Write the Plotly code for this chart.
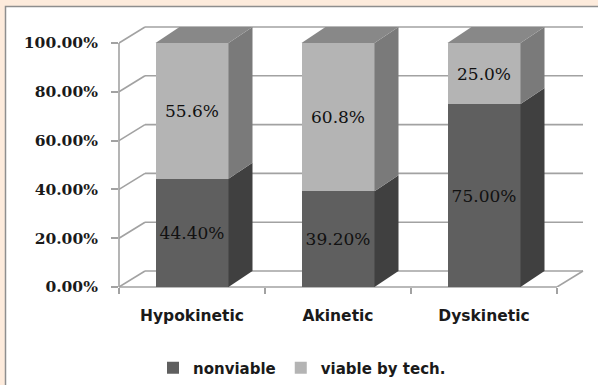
import plotly.graph_objects as go

# ---- data -------------------------------------------------------------
categories = ["Hypokinetic", "Akinetic", "Dyskinetic"]
nonviable = [44.4, 39.2, 75.0]
viable_by_tech = [55.6, 60.8, 25.0]
y_ticks = [0, 20, 40, 60, 80, 100]
y_tick_labels = [f"{v:.2f}%" for v in y_ticks]

# ---- geometry / style ------------------------------------------------
W, H = 598, 385
PLOT_L, PLOT_R, PLOT_T, PLOT_B = 119, 590, 20, 287   # plot area in px
PX_PER_CAT = 146.0                                    # px per category slot
PX_PER_PCT = 2.44                                     # px per percent
X_MAX = (PLOT_R - PLOT_L) / PX_PER_CAT
Y_MAX = (PLOT_B - PLOT_T) / PX_PER_PCT

BAR_W = 0.5
BAR_DX = 24 / PX_PER_CAT      # depth of the 3-D bars
WALL_DX = 26 / PX_PER_CAT     # depth of the back wall
DEPTH_DY = 16 / PX_PER_PCT

DARK_FRONT, DARK_SIDE = "#5f5f5f", "#404040"
LIGHT_FRONT, LIGHT_SIDE, TOP = "#b4b4b4", "#7a7a7a", "#888888"
GRID = "#a2a2a2"
PEACH = "#fdebdc"

n = len(categories)
xpos = [i + 0.5 for i in range(n)]


def px_to_paper_x(px):
    return (px - PLOT_L) / (PLOT_R - PLOT_L)


def px_to_paper_y(py):
    return (PLOT_B - py) / (PLOT_B - PLOT_T)


def side_faces(bases, tops):
    xs, ys = [], []
    for xc, b, t in zip(xpos, bases, tops):
        x1 = xc + BAR_W / 2
        xs += [x1, x1 + BAR_DX, x1 + BAR_DX, x1, x1, None]
        ys += [b, b + DEPTH_DY, t + DEPTH_DY, t, b, None]
    return xs, ys


def top_faces(tops):
    xs, ys = [], []
    for xc, t in zip(xpos, tops):
        x0, x1 = xc - BAR_W / 2, xc + BAR_W / 2
        xs += [x0, x1, x1 + BAR_DX, x0 + BAR_DX, x0, None]
        ys += [t, t, t + DEPTH_DY, t + DEPTH_DY, t, None]
    return xs, ys


totals = [a + b for a, b in zip(nonviable, viable_by_tech)]
zeros = [0] * n

fig = go.Figure()

label_font = dict(family="DejaVu Serif", size=17, color="#111111")

# front faces
fig.add_trace(go.Bar(
    x=xpos, y=nonviable, width=BAR_W, name="nonviable",
    marker=dict(color=DARK_FRONT, line=dict(width=0)),
    texttemplate="%{y:.2f}%", textposition="inside", insidetextanchor="middle",
    textangle=0, constraintext="none", textfont=label_font, hoverinfo="skip",
))
fig.add_trace(go.Bar(
    x=xpos, y=viable_by_tech, width=BAR_W, name="viable by tech.",
    marker=dict(color=LIGHT_FRONT, line=dict(width=0)),
    texttemplate="%{y:.1f}%", textposition="inside", insidetextanchor="middle",
    textangle=0, constraintext="none", textfont=label_font, hoverinfo="skip",
))

# side and top faces
sx, sy = side_faces(zeros, nonviable)
fig.add_trace(go.Scatter(x=sx, y=sy, mode="lines", fill="toself",
                         fillcolor=DARK_SIDE, line=dict(width=0),
                         showlegend=False, hoverinfo="skip"))
sx, sy = side_faces(nonviable, totals)
fig.add_trace(go.Scatter(x=sx, y=sy, mode="lines", fill="toself",
                         fillcolor=LIGHT_SIDE, line=dict(width=0),
                         showlegend=False, hoverinfo="skip"))
tx, ty = top_faces(totals)
fig.add_trace(go.Scatter(x=tx, y=ty, mode="lines", fill="toself",
                         fillcolor=TOP, line=dict(width=0),
                         showlegend=False, hoverinfo="skip"))

# ---- frame: panel, back wall, floor, axis lines -----------------------
shapes = [
    dict(type="rect", xref="paper", yref="paper", layer="below",
         x0=px_to_paper_x(5.5), x1=px_to_paper_x(W + 10),
         y0=px_to_paper_y(6.5), y1=px_to_paper_y(H + 10),
         fillcolor="white", line=dict(color="#8e8e8e", width=1.5)),
]
line_style = dict(color=GRID, width=1.6)
for v in y_ticks:
    shapes.append(dict(type="line", xref="x", yref="y", layer="below",
                       x0=WALL_DX, x1=n + WALL_DX,
                       y0=v + DEPTH_DY, y1=v + DEPTH_DY, line=line_style))
    shapes.append(dict(type="line", xref="x", yref="y", layer="below",
                       x0=0, x1=WALL_DX, y0=v, y1=v + DEPTH_DY, line=line_style))
shapes.append(dict(type="line", xref="x", yref="y", layer="below",
                   x0=n, x1=n + WALL_DX, y0=0, y1=DEPTH_DY, line=line_style))
shapes.append(dict(type="line", xref="x", yref="paper", layer="below",
                   x0=0, x1=n, y0=0, y1=0, line=line_style))
shapes.append(dict(type="line", xref="paper", yref="y", layer="below",
                   x0=0, x1=0, y0=0, y1=y_ticks[-1], line=line_style))

fig.update_layout(
    width=W, height=H,
    margin=dict(l=PLOT_L, r=W - PLOT_R, t=PLOT_T, b=H - PLOT_B),
    paper_bgcolor=PEACH, plot_bgcolor="white",
    barmode="stack",
    shapes=shapes,
    showlegend=True,
    legend=dict(orientation="h", xref="container", yref="container",
                xanchor="center", yanchor="middle",
                x=302 / W, y=1 - 368 / H,
                font=dict(family="DejaVu Sans", size=15, color="#1a1a1a",
                          weight="bold"),
                bgcolor="rgba(0,0,0,0)", traceorder="normal"),
    xaxis=dict(range=[0, X_MAX], tickvals=xpos, ticktext=categories,
               ticks="", showgrid=False, zeroline=False, showline=False,
               automargin=False,
               tickfont=dict(family="DejaVu Sans", size=15.5, color="#1a1a1a",
                             weight="bold"),
               ticklabelstandoff=17,
               minor=dict(tickmode="array", tickvals=list(range(n + 1)),
                          ticks="outside", ticklen=6, tickwidth=1.5,
                          tickcolor=GRID, showgrid=False)),
    yaxis=dict(range=[0, Y_MAX], tickvals=y_ticks, ticktext=y_tick_labels,
               ticks="outside", ticklen=7, tickwidth=1.5, tickcolor=GRID,
               showgrid=False, zeroline=False, showline=False,
               automargin=False,
               tickfont=dict(family="DejaVu Serif", size=15.5, color="#1a1a1a",
                             weight="bold"),
               ticklabelstandoff=10),
)

fig.write_html("out.html")
